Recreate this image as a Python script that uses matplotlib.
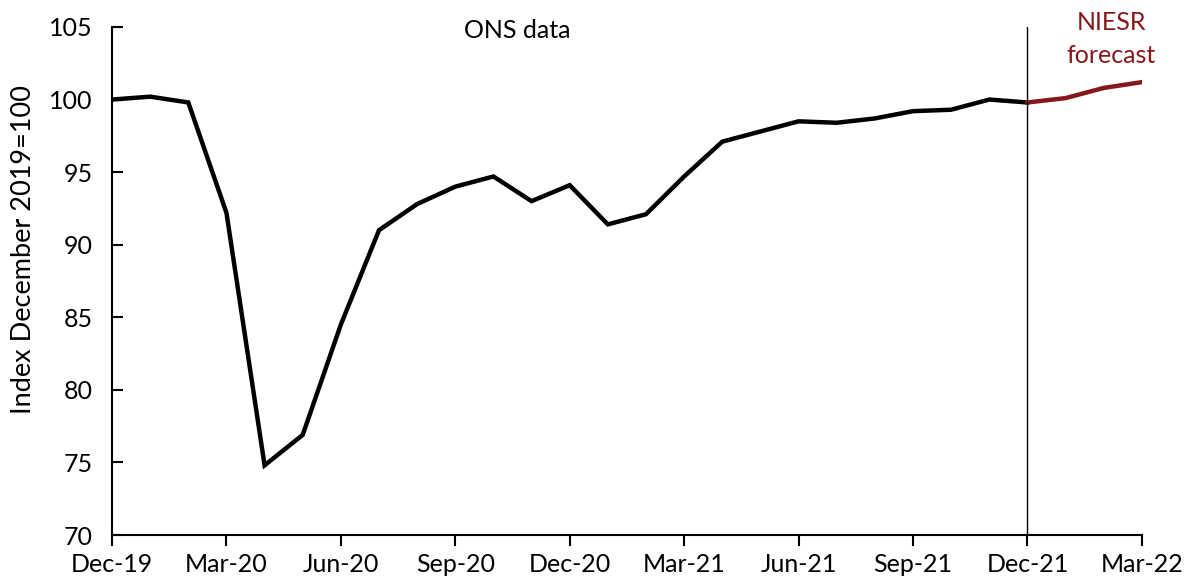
import matplotlib.pyplot as plt

plt.rcParams['font.family'] = ['Lato', 'DejaVu Sans']

# Monthly index, December 2019 = 100
months = ['Dec-19', 'Jan-20', 'Feb-20', 'Mar-20', 'Apr-20', 'May-20', 'Jun-20',
          'Jul-20', 'Aug-20', 'Sep-20', 'Oct-20', 'Nov-20', 'Dec-20', 'Jan-21',
          'Feb-21', 'Mar-21', 'Apr-21', 'May-21', 'Jun-21', 'Jul-21', 'Aug-21',
          'Sep-21', 'Oct-21', 'Nov-21', 'Dec-21', 'Jan-22', 'Feb-22', 'Mar-22']
ons = [100.0, 100.2, 99.8, 92.2, 74.8, 76.9, 84.5, 91.0, 92.8, 94.0, 94.7,
       93.0, 94.1, 91.4, 92.1, 94.7, 97.1, 97.8, 98.5, 98.4, 98.7, 99.2,
       99.3, 100.0, 99.8]
forecast = [99.8, 100.1, 100.8, 101.2]

RED = '#86181c'

x_ons = list(range(len(ons)))
x_fc = list(range(len(ons) - 1, len(ons) - 1 + len(forecast)))

fig = plt.figure(figsize=(11.93, 5.84), dpi=100)
ax = fig.add_axes([0.0939, 0.0839, 0.8632, 0.8699])

ax.plot(x_ons, ons, color='black', lw=3.2, solid_joinstyle='miter')
ax.plot(x_fc, forecast, color=RED, lw=3.2)
ax.axvline(len(ons) - 1, color='black', lw=1)

ax.set_xlim(0, len(months) - 1)
ax.set_ylim(70, 105)
ax.set_xticks(range(0, len(months), 3))
ax.set_xticklabels(months[::3])
ax.set_yticks(range(70, 106, 5))

for s in ['top', 'right']:
    ax.spines[s].set_visible(False)
for s in ['left', 'bottom']:
    ax.spines[s].set_linewidth(1.5)

ax.tick_params(axis='y', direction='in', length=8, width=1.5, labelsize=18, pad=14)
ax.tick_params(axis='x', direction='out', length=8, width=1.5, labelsize=18, pad=5)
ax.set_ylabel('Index December 2019=100', fontsize=19.5, labelpad=9)
ax.yaxis.label.set_y(0.561)

ax.text(10.62, 104.25, 'ONS data', fontsize=18, ha='center', va='baseline')
ax.text(26.2, 104.8, 'NIESR', fontsize=18, ha='center', va='baseline', color=RED)
ax.text(26.2, 102.55, 'forecast', fontsize=18, ha='center', va='baseline', color=RED)

fig.savefig('out.png', dpi=100)
